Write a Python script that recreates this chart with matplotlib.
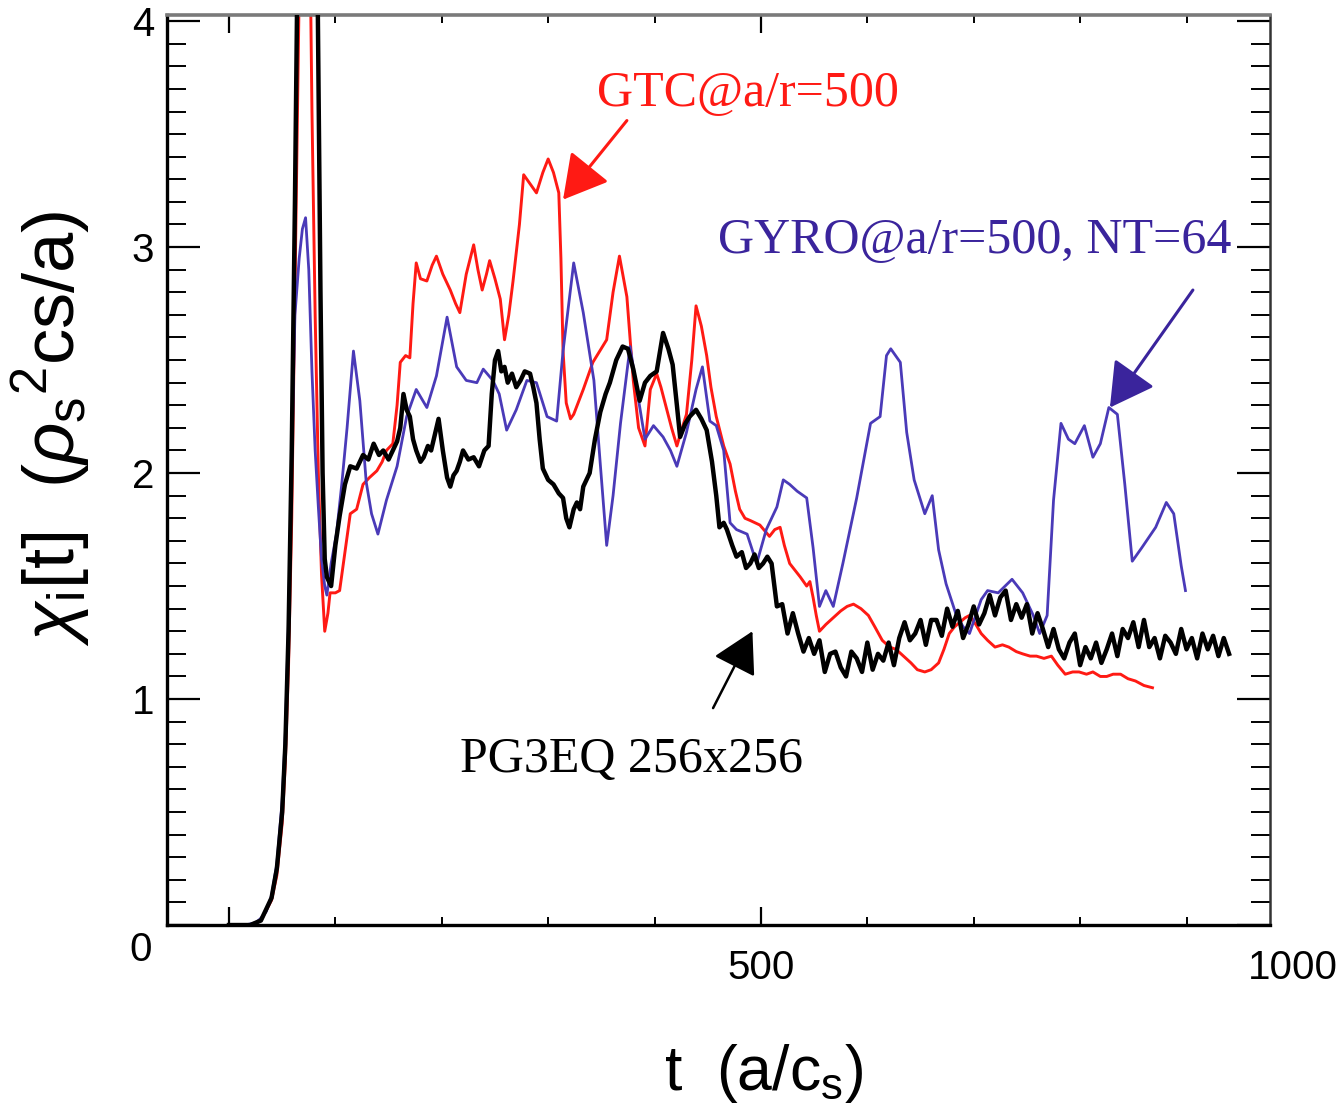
import matplotlib
matplotlib.use("Agg")
import matplotlib.pyplot as plt
from matplotlib.ticker import MultipleLocator, FixedLocator, FixedFormatter

plt.rcParams['mathtext.fontset'] = 'custom'
plt.rcParams['mathtext.rm'] = 'Liberation Sans'
plt.rcParams['mathtext.it'] = 'Liberation Sans:italic'
plt.rcParams['mathtext.bf'] = 'Liberation Sans:bold'

# ---------------- data ----------------
gtc_t = [0, 20, 30, 40, 45, 50, 53, 56, 59, 62, 65, 68, 72, 75, 78, 81, 84, 87, 90, 93, 95,
         100, 104, 109, 114, 120, 126, 132, 139, 144, 148, 154, 158, 161, 166, 170, 173, 176,
         180, 186, 191, 195, 201, 208, 213, 217, 223, 230, 234, 238, 242, 245, 250, 255, 259,
         263, 267, 273, 277, 283, 289, 295, 300, 305, 310, 312, 314, 317, 321, 324, 333, 342,
         355, 361, 367, 374, 380, 385, 391, 396, 402, 406, 411, 416, 421, 426, 430, 435, 439,
         444, 449, 453, 458, 465, 471, 476, 480, 485, 490, 499, 508, 513, 518, 522, 527, 532,
         537, 543, 546, 549, 552, 555, 561, 568, 575, 581, 587, 594, 601, 607, 614, 621, 627,
         634, 641, 647, 654, 660, 667, 672, 677, 682, 687, 692, 696, 702, 707, 713, 720, 727,
         733, 740, 746, 753, 759, 766, 773, 779, 786, 793, 799, 806, 812, 819, 825, 831, 838,
         845, 852, 860, 868]
gtc_y = [0, 0, 0.02, 0.11, 0.22, 0.45, 0.72, 1.15, 1.8, 2.8, 3.8, 4.8, 5.5, 4.8, 3.6, 2.7,
         2.0, 1.55, 1.3, 1.38, 1.47, 1.47, 1.48, 1.65, 1.82, 1.84, 1.95, 1.98, 2.01, 2.05, 2.10,
         2.13, 2.30, 2.49, 2.52, 2.51, 2.75, 2.93, 2.86, 2.85, 2.92, 2.96, 2.88, 2.81, 2.75,
         2.71, 2.88, 3.01, 2.90, 2.81, 2.88, 2.94, 2.86, 2.77, 2.59, 2.70, 2.85, 3.10, 3.32,
         3.28, 3.24, 3.33, 3.39, 3.33, 3.24, 2.95, 2.54, 2.31, 2.24, 2.26, 2.37, 2.49, 2.59,
         2.80, 2.96, 2.78, 2.41, 2.20, 2.12, 2.37, 2.44, 2.38, 2.29, 2.20, 2.12, 2.20, 2.26,
         2.50, 2.74, 2.65, 2.52, 2.38, 2.25, 2.12, 2.04, 1.92, 1.84, 1.80, 1.79, 1.77, 1.72,
         1.75, 1.76, 1.68, 1.60, 1.57, 1.54, 1.50, 1.52, 1.45, 1.37, 1.30, 1.33, 1.36, 1.39,
         1.41, 1.42, 1.40, 1.37, 1.32, 1.26, 1.23, 1.22, 1.19, 1.16, 1.13, 1.12, 1.13, 1.16,
         1.22, 1.29, 1.32, 1.34, 1.36, 1.37, 1.33, 1.29, 1.26, 1.23, 1.24, 1.23, 1.21, 1.20,
         1.19, 1.19, 1.18, 1.19, 1.15, 1.11, 1.12, 1.12, 1.11, 1.12, 1.10, 1.10, 1.11, 1.11,
         1.09, 1.08, 1.06, 1.05]

gyro_t = [0, 15, 25, 30, 35, 40, 45, 50, 53, 56, 59, 62, 66, 69, 72, 75, 78, 81, 84, 87, 90,
          92, 96, 101, 106, 111, 117, 123, 129, 134, 140, 148, 158, 167, 176, 186, 195, 205,
          214, 223, 233, 239, 248, 254, 261, 270, 280, 289, 299, 308, 314, 324, 333, 343, 349,
          355, 361, 368, 377, 383, 391, 399, 408, 415, 421, 430, 439, 445, 452, 458, 465, 471,
          477, 487, 496, 505, 515, 521, 527, 534, 543, 549, 555, 561, 568, 577, 590, 603, 612,
          618, 622, 631, 637, 644, 654, 661, 667, 674, 683, 690, 696, 707, 713, 723, 736, 746,
          756, 762, 769, 775, 782, 789, 795, 804, 812, 819, 827, 835, 842, 849, 858, 871, 881,
          888, 895, 899]
gyro_y = [0, 0, 0.01, 0.03, 0.06, 0.13, 0.27, 0.55, 0.85, 1.35, 2.05, 2.7, 2.95, 3.08, 3.13,
          2.9, 2.45, 2.1, 1.85, 1.62, 1.5, 1.46, 1.6, 1.73, 1.95, 2.20, 2.54, 2.32, 1.96, 1.82,
          1.73, 1.88, 2.03, 2.25, 2.37, 2.29, 2.43, 2.69, 2.47, 2.41, 2.40, 2.46, 2.41, 2.35,
          2.19, 2.28, 2.41, 2.40, 2.25, 2.23, 2.54, 2.93, 2.71, 2.41, 2.04, 1.68, 1.90, 2.22,
          2.56, 2.38, 2.15, 2.21, 2.16, 2.10, 2.03, 2.18, 2.37, 2.47, 2.23, 2.21, 2.10, 1.78,
          1.75, 1.73, 1.60, 1.75, 1.85, 1.97, 1.95, 1.92, 1.89, 1.67, 1.41, 1.48, 1.41, 1.60,
          1.89, 2.22, 2.25, 2.52, 2.55, 2.49, 2.18, 1.97, 1.82, 1.90, 1.66, 1.51, 1.38, 1.32,
          1.29, 1.44, 1.48, 1.47, 1.53, 1.47, 1.37, 1.29, 1.37, 1.88, 2.22, 2.15, 2.13, 2.21,
          2.07, 2.13, 2.29, 2.26, 1.95, 1.61, 1.67, 1.76, 1.87, 1.82, 1.59, 1.48]

pg3eq_t = [0, 20, 30, 40, 45, 50, 53, 56, 59, 62, 65, 70, 76, 80, 83, 86, 88, 90, 92, 96, 100,
           104, 109, 114, 120, 126, 131, 136, 141, 145, 150, 154, 158, 161, 164, 167, 170, 173,
           176, 180, 183, 187, 190, 194, 197, 201, 205, 208, 211, 214, 217, 220, 225, 230, 235,
           240, 244, 247, 250, 253, 256, 259, 262, 266, 270, 274, 278, 283, 286, 289, 292, 295,
           300, 305, 310, 314, 317, 320, 324, 327, 330, 333, 339, 344, 349, 354, 358, 364, 370,
           375, 380, 386, 391, 396, 402, 408, 413, 417, 421, 424, 429, 433, 439, 444, 449, 454,
           458, 461, 465, 468, 473, 477, 482, 486, 490, 494, 498, 502, 506,
           510, 515, 520, 525, 530, 535, 540, 545, 550, 555, 560, 565, 570, 575, 580, 585, 590,
           595, 600, 605, 610, 615, 620, 625, 630, 635, 640, 645, 650, 655, 660, 665, 670, 675,
           680, 685, 690, 695, 700, 705, 710, 715, 720, 725, 730, 735, 740, 745, 750, 755, 760,
           765, 770, 775, 780, 785, 790, 795, 800, 805, 810, 815, 820, 825, 830, 835, 840, 845,
           850, 855, 860, 865, 870, 875, 880, 885, 890, 895, 900, 905, 910, 915, 920, 925, 930,
           935, 940]
pg3eq_y = [0, 0, 0.02, 0.12, 0.25, 0.5, 0.8, 1.3, 2.1, 3.2, 4.5, 6.0, 6.5, 5.5, 4.3, 2.8, 2.0,
           1.62, 1.54, 1.50, 1.68, 1.81, 1.95, 2.03, 2.02, 2.08, 2.06, 2.13, 2.08, 2.10, 2.06,
           2.10, 2.14, 2.20, 2.35, 2.28, 2.25, 2.15, 2.10, 2.05, 2.07, 2.12, 2.10, 2.18, 2.24,
           2.10, 1.98, 1.94, 1.99, 2.01, 2.05, 2.10, 2.06, 2.07, 2.03, 2.10, 2.12, 2.35, 2.50,
           2.54, 2.45, 2.47, 2.40, 2.44, 2.38, 2.41, 2.45, 2.44, 2.38, 2.31, 2.15, 2.02, 1.97,
           1.95, 1.91, 1.89, 1.80, 1.76, 1.84, 1.87, 1.84, 1.94, 2.00, 2.15, 2.27, 2.35, 2.40,
           2.50, 2.56, 2.55, 2.46, 2.32, 2.40, 2.43, 2.45, 2.62, 2.55, 2.48, 2.30, 2.16, 2.22,
           2.25, 2.28, 2.24, 2.19, 2.05, 1.90, 1.76, 1.78, 1.75, 1.68, 1.63, 1.65, 1.58, 1.60,
           1.64, 1.58, 1.60, 1.63,
           1.60, 1.41, 1.42, 1.29, 1.38, 1.29, 1.21, 1.27, 1.20, 1.26, 1.12, 1.20, 1.21, 1.14,
           1.10, 1.21, 1.18, 1.12, 1.25, 1.13, 1.20, 1.17, 1.25, 1.15, 1.27, 1.34, 1.26, 1.29,
           1.35, 1.24, 1.35, 1.35, 1.28, 1.40, 1.32, 1.39, 1.27, 1.33, 1.41, 1.33, 1.38, 1.46,
           1.37, 1.45, 1.48, 1.35, 1.42, 1.36, 1.42, 1.29, 1.38, 1.31, 1.23, 1.31, 1.22, 1.18,
           1.25, 1.29, 1.15, 1.23, 1.18, 1.25, 1.16, 1.22, 1.29, 1.19, 1.31, 1.27, 1.34, 1.23,
           1.35, 1.23, 1.27, 1.18, 1.28, 1.25, 1.20, 1.31, 1.22, 1.27, 1.18, 1.29, 1.22, 1.28,
           1.19, 1.27, 1.20]

x_major = [0, 500]
x_labels = ['', '500']
y_major = [0, 1, 2, 3, 4]
y_labels = ['', '1', '2', '3', '4']

RED = '#ff1a14'
BLUE = '#4a3ab8'
BLUE_TXT = '#3a249c'

# ---------------- figure ----------------
fig = plt.figure(figsize=(13.42, 11.04), dpi=100)
ax = fig.add_axes([0.1244, 0.1621, 0.8219, 0.8243])

ax.plot(pg3eq_t, pg3eq_y, color='black', lw=3.2, zorder=3)
ax.plot(gtc_t, gtc_y, color=RED, lw=2.1, zorder=2)
ax.plot(gyro_t, gyro_y, color=BLUE, lw=2.0, zorder=2.5)

ax.set_xlim(-58.3, 978.4)
ax.set_ylim(0, 4.027)

ax.xaxis.set_major_locator(FixedLocator(x_major))
ax.xaxis.set_major_formatter(FixedFormatter(x_labels))
ax.xaxis.set_minor_locator(MultipleLocator(100))
ax.yaxis.set_major_locator(FixedLocator(y_major))
ax.yaxis.set_major_formatter(FixedFormatter(y_labels))
ax.yaxis.set_minor_locator(MultipleLocator(0.1))

ax.tick_params(which='both', direction='in', top=True, right=True, color='black')
ax.tick_params(axis='x', which='major', length=13, width=1.6, pad=17)
ax.tick_params(axis='x', which='minor', length=6, width=1.4)
ax.tick_params(axis='y', which='major', length=24, width=1.6, pad=9)
ax.tick_params(axis='y', which='minor', length=14, width=1.4)
for lab in ax.get_xticklabels() + ax.get_yticklabels():
    lab.set_fontfamily('Liberation Sans')
    lab.set_fontsize(29)

for side in ['left', 'bottom']:
    ax.spines[side].set_linewidth(2.4)
    ax.spines[side].set_color('black')
ax.spines['top'].set_linewidth(2.6)
ax.spines['top'].set_color('#7a7a7a')
ax.spines['right'].set_linewidth(1.8)
ax.spines['right'].set_color('#333333')

# extra tick labels outside the frame
ax.annotate('1000', xy=(1000, 0), xycoords=('data', 'axes fraction'),
            xytext=(0, -17), textcoords='offset points', ha='center', va='top',
            fontsize=29, fontfamily='Liberation Sans', annotation_clip=False)
ax.annotate('0', xy=(0, 0), xycoords='axes fraction',
            xytext=(-19, -18), textcoords='offset points', ha='center', va='center',
            fontsize=29, fontfamily='Liberation Sans', annotation_clip=False)

# axis labels
ax.set_xlabel(r't  (a/c$_{\mathrm{s}}$)', fontsize=45, fontfamily='Liberation Sans')
ax.xaxis.set_label_coords(0.541, -0.128)
ax.set_ylabel(r'$\chi_{\mathrm{i}}[\mathrm{t}]\ \ (\rho_{\mathrm{s}}{}^{2}\mathrm{cs/a})$',
              fontsize=52)
ax.yaxis.set_label_coords(-0.068, 0.546)

# annotations
serif = 'Liberation Serif'
ax.text(346, 3.63, 'GTC@a/r=500', color=RED, fontsize=36, fontfamily=serif,
        ha='left', va='baseline')
ax.text(460, 2.98, 'GYRO@a/r=500, NT=64', color=BLUE_TXT, fontsize=36, fontfamily=serif,
        ha='left', va='baseline')
ax.text(217, 0.677, 'PG3EQ 256x256', color='black', fontsize=36, fontfamily=serif,
        ha='left', va='baseline')

astyle = '-|>,head_length=0.8,head_width=0.45'
ax.annotate('', xy=(314, 3.21), xytext=(374, 3.56),
            arrowprops=dict(arrowstyle=astyle, color=RED, lw=2.2, mutation_scale=34,
                            shrinkA=0, shrinkB=0))
ax.annotate('', xy=(828, 2.29), xytext=(906, 2.81),
            arrowprops=dict(arrowstyle=astyle, color=BLUE_TXT, lw=2.2, mutation_scale=34,
                            shrinkA=0, shrinkB=0))
ax.annotate('', xy=(492, 1.30), xytext=(455, 0.96),
            arrowprops=dict(arrowstyle=astyle, color='black', lw=1.8, mutation_scale=32,
                            shrinkA=0, shrinkB=0))

fig.savefig('out.png', dpi=100, facecolor='white')
